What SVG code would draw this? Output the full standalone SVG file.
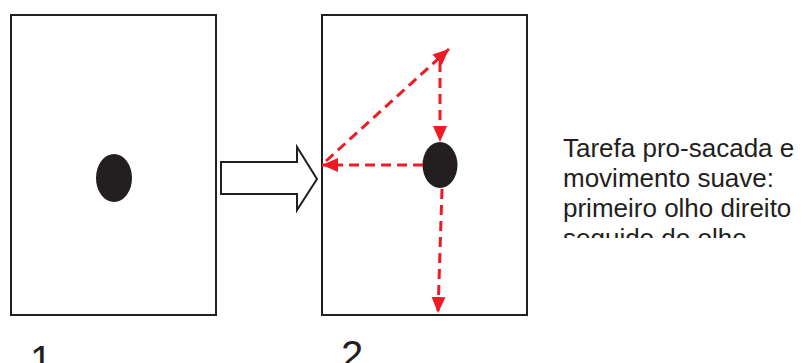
<svg xmlns="http://www.w3.org/2000/svg" width="803" height="363" viewBox="0 0 803 363">
<style>
.box{fill:#fff;stroke:#231f20;stroke-width:2}
.eye{fill:#231f20}
.dash{fill:none;stroke:#ed1c24;stroke-width:3;stroke-dasharray:10 6;marker-end:url(#ah)}
.txt{font-family:"Liberation Sans",Arial,sans-serif;fill:#231f20}
</style>
<defs>
<marker id="ah" markerUnits="userSpaceOnUse" markerWidth="18" markerHeight="16" refX="16" refY="7" orient="auto" viewBox="0 0 18 14">
<path d="M0,0 L16,7 L0,14 Z" fill="#ed1c24"/>
</marker>
<clipPath id="clipText"><rect x="540" y="120" width="263" height="118"/></clipPath>
</defs>
<rect width="803" height="363" fill="#fff"/>
<g id="panel1">
<rect class="box" x="11" y="15" width="205" height="300"/>
<ellipse class="eye" cx="114" cy="178" rx="18" ry="24"/>
</g>
<g id="bigArrow">
<polygon points="221,162 297,162 297,147 317,179 297,210 297,194 221,194" fill="#fff" stroke="#231f20" stroke-width="2" stroke-linejoin="miter"/>
</g>
<g id="panel2">
<rect class="box" x="322" y="15" width="205" height="300"/>
<ellipse class="eye" cx="440" cy="165" rx="17.5" ry="23"/>
</g>
<g id="connectors">
<line class="dash" x1="423" y1="165" x2="322" y2="165"/>
<line class="dash" x1="326" y1="161" x2="449" y2="49"/>
<line class="dash" x1="440" y1="62" x2="440" y2="142"/>
<line class="dash" x1="442" y1="189" x2="438" y2="313"/>
</g>
<g id="caption" clip-path="url(#clipText)">
<text class="txt" font-size="26" x="563" y="157">Tarefa pro-sacada e</text>
<text class="txt" font-size="26" x="563" y="187">movimento suave:</text>
<text class="txt" font-size="26" x="563" y="217">primeiro olho direito</text>
<text class="txt" font-size="26" x="563" y="247">seguido do olho</text>
</g>
<g id="labels">
<text class="txt" font-size="40" x="30" y="374">1</text>
<text class="txt" font-size="40" x="341" y="369">2</text>
</g>
</svg>
